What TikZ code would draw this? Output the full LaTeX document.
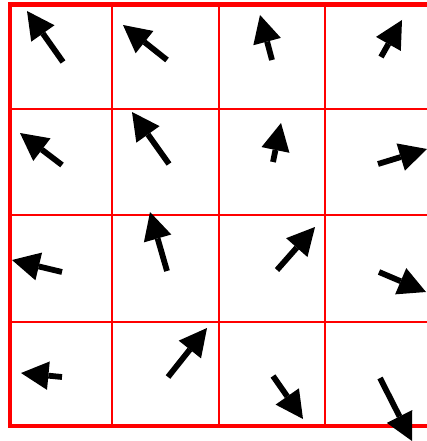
\documentclass[tikz,border=0pt]{standalone}
\usetikzlibrary{arrows.meta}
\begin{document}
\begin{tikzpicture}[x=1pt,y=-1pt,
  thinred/.style={draw=red,line width=2.3pt},
  thickred/.style={draw=red,line width=4.7pt},
  vec/.style={draw=black,line width=5.8pt,-{Triangle[length=27.5pt,width=28.5pt,line width=0pt]}}]
\useasboundingbox (0,0) rectangle (427,441);
\clip (0,0) rectangle (427,441);
% grid
\foreach \x in {111.7,219.3,325} \draw[thinred] (\x,4.7) -- (\x,426);
\foreach \y in {109.3,215,321.7} \draw[thinred] (10,\y) -- (427,\y);
\draw[thickred] (8,4.7) -- (427,4.7);
\draw[thickred] (10,2.5) -- (10,426);
\draw[thickred] (8,426) -- (427,426);
% arrows: tails (t) and tips (h)
\coordinate (t00) at (63,62);   \coordinate (h00) at (27,11);
\coordinate (t10) at (167,60);  \coordinate (h10) at (123,25);
\coordinate (t20) at (272,60);  \coordinate (h20) at (260,15);
\coordinate (t30) at (381,57);  \coordinate (h30) at (402,20);
\coordinate (t01) at (62,165);  \coordinate (h01) at (20,133);
\coordinate (t11) at (169,164); \coordinate (h11) at (132,112);
\coordinate (t21) at (273,162); \coordinate (h21) at (281,123);
\coordinate (t31) at (378,164); \coordinate (h31) at (427,149);
\coordinate (t02) at (62,272);  \coordinate (h02) at (12,260);
\coordinate (t12) at (167,271); \coordinate (h12) at (150,212);
\coordinate (t22) at (277,270); \coordinate (h22) at (315,227);
\coordinate (t32) at (379,272); \coordinate (h32) at (426,292);
\coordinate (t03) at (62,377);  \coordinate (h03) at (21,373);
\coordinate (t13) at (168,377); \coordinate (h13) at (207,328);
\coordinate (t23) at (273,376); \coordinate (h23) at (303,419);
\coordinate (t33) at (380,378); \coordinate (h33) at (412,441);
\foreach \c in {00,10,20,30,01,11,21,31,02,12,22,32,03,13,23,33}
  \draw[vec] (t\c) -- (h\c);
\end{tikzpicture}
\end{document}
